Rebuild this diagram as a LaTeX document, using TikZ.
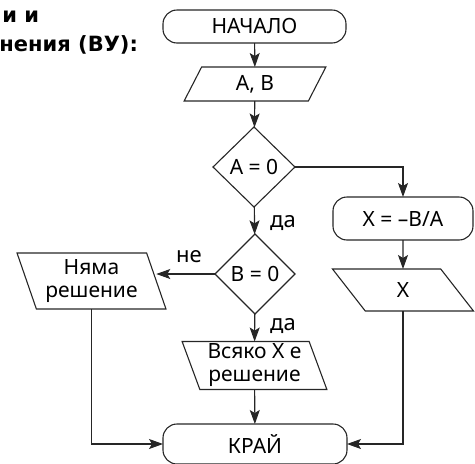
\documentclass[tikz,border=0pt]{standalone}
\usepackage{fontspec}
\setmainfont{Noto Sans}[Script=Cyrillic,Language=Bulgarian]
\newfontfamily\headfont{DejaVu Sans}[Script=Cyrillic]
\usetikzlibrary{shapes.geometric,arrows.meta}

\newcommand\fsBody{\fontsize{21}{23}\selectfont}
\newcommand\fsLabel{\fontsize{22}{24}\selectfont}
\newcommand\fsHead{\headfont\bfseries\fontsize{21}{24}\selectfont}

\tikzset{
  shapeline/.style={draw=black!85, line width=1.1pt},
  terminal/.style={shapeline, rectangle, rounded corners=14pt, font=\fsBody, align=center},
  decision/.style={shapeline, diamond, font=\fsBody},
  iobox/.style={shapeline, trapezium, trapezium stretches=true, font=\fsBody, align=center},
  leanback/.style={trapezium left angle={90+#1}, trapezium right angle={90-#1}},
  leanfwd/.style={trapezium left angle={90-#1}, trapezium right angle={90+#1}},
  flow/.style={draw=black!85, line width=1.1pt, -{Stealth[length=14pt,width=10pt,inset=3pt]}},
  branch/.style={font=\fsLabel},
}

\begin{document}
\begin{tikzpicture}[x=1pt, y=-1pt, every node/.style={inner sep=0pt, outer sep=0pt}]
  \useasboundingbox (0,0) rectangle (475,464);

  % heading fragment
  \node[anchor=base east, font=\fsHead] (headA) at (39,22) {и и};
  \node[anchor=base east, font=\fsHead] (headB) at (138,51) {нения (ВУ):};

  % main column
  \node[terminal, minimum width=183pt, minimum height=33pt] (start) at (254.5,26.5) {НАЧАЛО};
  \node[iobox, leanfwd=19.4, minimum width=142pt, minimum height=34pt] (input) at (255,84) {A, B};
  \node[decision, minimum width=82pt, minimum height=80pt] (testA) at (254,167) {A = 0};
  \node[decision, minimum width=80pt, minimum height=80pt] (testB) at (255,274) {B = 0};
  \node[iobox, leanback=19.5, minimum width=145pt, minimum height=48pt] (every) at (254.5,365.5) {Всяко X е\\решение};
  \node[terminal, minimum width=184pt, minimum height=40pt] (stop) at (255,444) {КРАЙ};

  % left branch
  \node[iobox, leanback=20.6, minimum width=149pt, minimum height=56pt] (none) at (91.5,281) {Няма\\решение};

  % right branch
  \node[terminal, minimum width=140pt, minimum height=43pt] (calc) at (403,218.5) {X = –B/A};
  \node[iobox, leanback=19.6, minimum width=141pt, minimum height=42pt] (out) at (403,290) {X};

  % connectors
  \draw[flow] (start) -- (input);
  \draw[flow] (input) -- (testA);
  \draw[flow] (testA) -- (testB);
  \draw[flow] (testB) -- (every);
  \draw[flow] (every) -- (stop);
  \draw[flow] (testB.west) -- (testB.west -| none.east);
  \draw[flow] (testA.east) -| (calc.north);
  \draw[flow] (calc) -- (out);
  \draw[flow] (out.south) |- (stop.east);
  \draw[flow] (none.south) |- (stop.west);

  % branch labels
  \node[branch] (yesA) at (283,223) {да};
  \node[branch] (yesB) at (283,326) {да};
  \node[branch] (noB) at (189,257) {не};
\end{tikzpicture}
\end{document}
